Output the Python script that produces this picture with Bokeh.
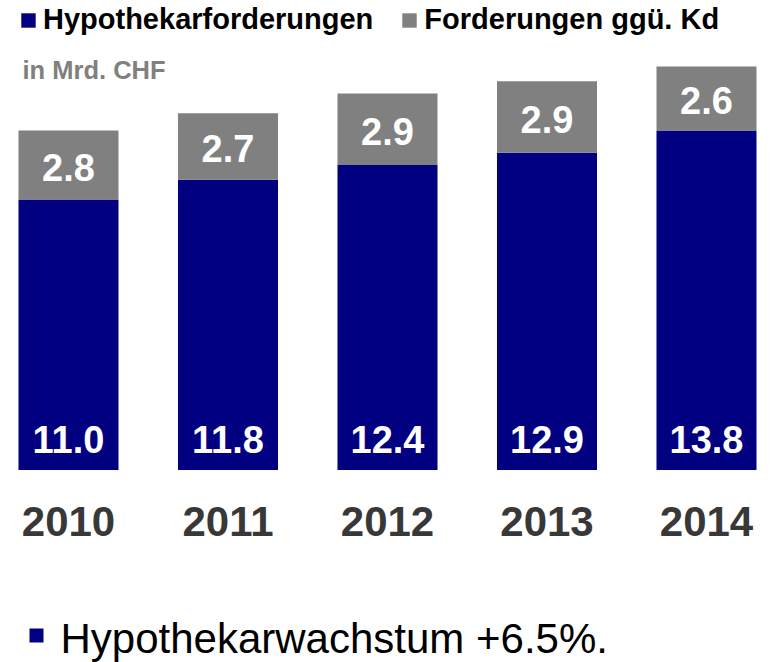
from bokeh.plotting import figure
from bokeh.models import (ColumnDataSource, Range1d, Legend, LegendItem, Label,
                          BoxAnnotation)
from bokeh.core.properties import value
from bokeh.embed import file_html
from bokeh.resources import INLINE

# ---- data ----
years = ["2010", "2011", "2012", "2013", "2014"]
hypothek = [11.0, 11.8, 12.4, 12.9, 13.8]
forderungen = [2.8, 2.7, 2.9, 2.9, 2.6]
series_names = ["Hypothekarforderungen", "Forderungen ggü. Kd"]
unit_note = "in Mrd. CHF"
bullet_note = "Hypothekarwachstum +6.5%."

NAVY = "#000080"
GREY = "#808080"
FONT = "Liberation Sans"

xs = list(range(len(years)))
total = [h + f for h, f in zip(hypothek, forderungen)]
src = ColumnDataSource(dict(
    x=xs,
    year=years,
    hyp=hypothek,
    ford=forderungen,
    total=total,
    hyp_lbl=[f"{v:.1f}" for v in hypothek],
    ford_lbl=[f"{v:.1f}" for v in forderungen],
    hyp_y=[1.23 for _ in hypothek],
    ford_y=[h + f / 2 - 0.09 for h, f in zip(hypothek, forderungen)],
    year_y=[-2.09 for _ in years],
))

W, H = 770, 662
p = figure(width=W, height=H,
           x_range=Range1d(-0.4263, 4.4013), y_range=Range1d(-7.825, 19.085),
           output_backend="svg", toolbar_location=None, min_border=0,
           x_axis_location=None, y_axis_location=None)
p.grid.visible = False
p.outline_line_color = None
p.background_fill_color = "white"
p.border_fill_color = "white"

bw = 0.627
r1 = p.vbar(x="x", bottom=0, top="hyp", width=bw, source=src,
            fill_color=NAVY, line_color=None)
r2 = p.vbar(x="x", bottom="hyp", top="total", width=bw, source=src,
            fill_color=GREY, line_color=None)

p.text(x="x", y="hyp_y", text="hyp_lbl", source=src, text_color="white",
       text_font=value(FONT), text_font_style="bold", text_font_size="38px",
       text_align="center", text_baseline="middle")
p.text(x="x", y="ford_y", text="ford_lbl", source=src, text_color="white",
       text_font=value(FONT), text_font_style="bold", text_font_size="38px",
       text_align="center", text_baseline="middle")
p.text(x="x", y="year_y", text="year", source=src, text_color="#383838",
       text_font=value(FONT), text_font_style="bold", text_font_size="42px",
       text_align="center", text_baseline="middle")

legend = Legend(
    items=[LegendItem(label=series_names[0], renderers=[r1]),
           LegendItem(label=series_names[1], renderers=[r2])],
    orientation="horizontal", location=(19, 626),
    glyph_width=18, glyph_height=18, label_standoff=6, spacing=27,
    padding=0, margin=0, border_line_alpha=0, background_fill_alpha=0,
    label_text_font=FONT, label_text_font_style="bold",
    label_text_font_size="29px", label_text_color="black")
p.add_layout(legend)

p.add_layout(Label(x=22, y=593, x_units="screen", y_units="screen",
                   text=unit_note, text_font=FONT, text_font_style="bold",
                   text_font_size="25.5px", text_color=GREY,
                   text_baseline="middle"))

p.add_layout(BoxAnnotation(left=29, right=43, bottom=20, top=34,
                           left_units="screen", right_units="screen",
                           bottom_units="screen", top_units="screen",
                           fill_color=NAVY, fill_alpha=1, line_color=None))
p.add_layout(Label(x=60, y=24, x_units="screen", y_units="screen",
                   text=bullet_note, text_font=FONT,
                   text_font_size="42px", text_color="black",
                   text_baseline="middle"))

open("out.html", "w").write(file_html(p, INLINE))
